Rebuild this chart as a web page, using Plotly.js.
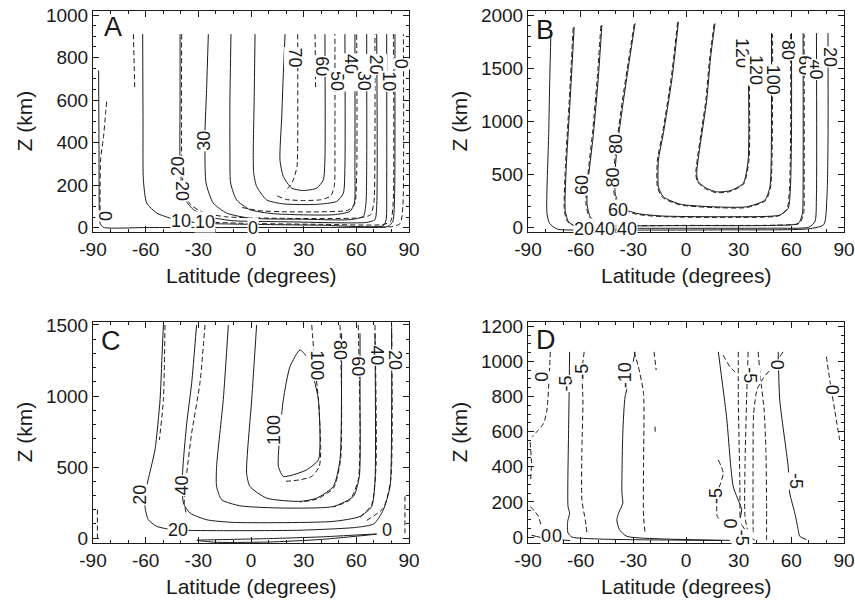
<!DOCTYPE html>
<html><head><meta charset="utf-8">
<script src="https://cdn.plot.ly/plotly-3.0.1.min.js"></script>
<style>html,body{margin:0;padding:0;background:#fff}#chart{width:855px;height:604px}</style>
</head><body><div id="chart"></div>
<script>
// ---------- tick labels ----------
const latTickVals = [-90, -60, -30, 0, 30, 60, 90];
const latTickText = ['-90', '-60', '-30', '0', '30', '60', '90'];
const xTitle = 'Latitude (degrees)';
const yTitle = 'Z (km)';
const panelLetters = ['A', 'B', 'C', 'D'];

// ---------- Panel A ----------
const A_solid_levels = [0, 10, 20, 30, 40, 50, 60];
const A_solid_lat = [
  [-86.8,-86.6,-86.4,-86.0,-84.1,-60,0,60,78,80.8,81.8,82,82],
  [-61.7,-61.5,-61.3,-59.4,-53.7,-44.2,-29.1,0,40,75.4,77.0,77.3,77.3],
  [-40.4,-40.4,-40.4,-38.5,-32.8,-23.3,-10.1,20,65.9,70.6,71.6,71.6],
  [-24.3,-25.3,-26.2,-25.6,-21.5,-13.9,-0.6,30,56.4,64,65.5,65.9,65.9],
  [-11.4,-12,-12,-11.6,-8.2,-0.6,12.7,46.9,56.4,58.9,59.2,59.2],
  [2.3,1.8,1.3,1.5,3.2,8.9,18.4,37.4,48.8,52.6,53.5,53.5],
  [19.4,18.3,17.5,16.5,18.4,23.2,29.8,37.4,41.2,42.1,42.1]
];
const A_solid_z = [
  [739,400,69,22,2,1,1,2,6,30,150,500,910],
  [910,500,225,116,69,41,22,16,12,10,40,200,910],
  [910,600,319,147,85,50,33,28,25,38,100,910],
  [910,650,444,210,116,69,45,40,38,53,116,288,910],
  [910,600,366,210,131,85,66,61,77,116,288,910],
  [910,600,366,260,194,131,112,110,124,163,288,910],
  [910,700,520,319,241,186,175,186,225,319,910]
];
const A_dash_lat = [
  [-82.2,-82.8,-84.1,-85.6,-86,-86],
  [-67,-66.2],
  [-39.5,-39.4,-38,-34,-27,-15,20,60,68,70,70.6,70.6],
  [26.6,26.6,26.2,24.1,21.5,19.4],
  [36.5,36.8],
  [15,20,30,40,45.5,47.5,47.8,47.8],
  [-5,5,20,40,55,59,60.2,60.2],
  [-30,0,40,75,79.5,81,81.1],
  [60,80,85,86.5,86.8]
];
const A_dash_z = [
  [593,540,420,330,150,60],
  [910,650],
  [910,300,160,105,72,52,44,46,60,120,400,910],
  [910,400,288,225,190,171],
  [910,660],
  [150,133,128,132,150,200,400,910],
  [95,80,75,75,82,110,250,910],
  [28,20,16,15,30,120,910],
  [3,5,20,100,910]
];
const A_label_text  = ['0','10','10','0','20','20','30','70','60','50','40','30','20','10','0'];
const A_label_lat   = [-82.6,-40,-26.2,1.3,-41.5,-39.0,-27.2,25.1,40.3,49,57,64.5,71.5,78.5,85.5];
const A_label_z     = [55,30,25,-2,290,175,410,800,760,690,770,690,770,690,770];
const A_label_angle = [-90,0,0,0,-90,90,-90,90,90,90,90,90,90,90,90];

// ---------- Panel B ----------
const B_solid_levels = [20, 40, 60, 80, 100, 120];
const B_solid_lat = [
  [-76.9,-77.6,-78.2,-79.2,-77.7,-73.5,-60,-30,20,70,78.5,80.3,80.9,80.9],
  [-63.7,-66,-68.2,-68.8,-66.9,-62.1,-40,0,50,70,73.5,74.3,74.3],
  [-47.9,-50,-52.7,-56.1,-56.4,-54.6,-48.9,-39.4,0,50,64,66.3,66.7,66.7],
  [-29,-32,-35.6,-39.4,-40.5,-40.3,-37.5,-28,-12.9,25,53.4,58.2,59.5,60.1,60.1],
  [-4.3,-8,-12.9,-15.7,-15.7,-12.9,-3.4,15.5,34.5,44.9,47.8,48.7,48.7],
  [16.5,14,11.8,6.1,7,11.8,17.4,25,32.6,35.4,35.4,34.5]
];
const B_solid_z = [
  [1860,1400,887,135,41,-12,-22,-22,-20,-10,30,300,800,1830],
  [1890,1200,574,166,56,9,-4,-5,-4,5,60,300,1830],
  [1906,1400,887,385,229,104,25,18,20,22,40,135,417,1830],
  [1922,1600,1200,730,500,323,197,135,110,104,119,182,385,900,1830],
  [1937,1400,887,636,385,291,222,197,197,260,385,1200,1830],
  [1922,1600,1200,511,432,370,338,348,417,636,1514,1733]
];
const B_dash_lat = [
  [-64.3,-66.5,-68.7,-69.3,-67.5,-62.5],
  [-48.5,-50.6,-53.3,-56.6,-57,-55.2,-49.5,-40,0,50,64.6,67,67.3,67.3],
  [-29.5,-32.5,-36.2,-40,-41.2,-41,-38,-28.5,-13,25,53,57.6,59,59.6,59.6],
  [16,13.5,11.3,5.6,6.5,11.3,17.2,25,32.8,35.9,35.9,35.2],
  [-4.8,-8.5,-13.4,-16.3,-16.3,-13.4,-3.6,15.5,34.5,45.3,48.2,49.3,49.3]
];
const B_dash_z = [
  [1880,1200,574,166,56,9],
  [1900,1400,887,385,229,104,28,20,22,24,42,135,417,1820],
  [1915,1600,1200,730,500,323,190,128,104,98,113,178,385,900,1820],
  [1915,1600,1200,511,432,365,330,340,410,636,1514,1750],
  [1930,1400,887,636,385,285,215,190,190,255,385,1200,1820]
];
const B_label_text  = ['20','40','60','40','60','80','80','120','120','100','80','60','40','20'];
const B_label_lat   = [-58,-46,-39,-33.5,-59.3,-40.3,-41.7,31.5,39.5,49.6,58.2,67.7,74.3,81.9];
const B_label_z     = [-12,-12,170,-12,400,790,470,1640,1480,1390,1670,1530,1483,1608];
const B_label_angle = [0,0,0,0,-90,-90,-90,90,90,90,90,90,90,90];

// ---------- Panel C ----------
const C_solid_levels = [0, 20, 40, 60, 80, 100];
const C_solid_lat = [
  [-30.9,-20,10,40,71.6,40,10,-20,-30.9],
  [-49.9,-50.8,-51.8,-54.7,-59.4,-60.4,-58.5,-53.7,-44.2,-19.6,27.9,60,70,75.4,79.2,80.1,80.1],
  [-31,-33.8,-36.6,-39,-38.5,-34.7,-25.3,-10.1,46.9,62.1,68.7,70.6,70.6],
  [-12.9,-15.8,-19.6,-19.6,-16.7,-6.3,18.4,46.9,58.3,61.7,62.1,62.1],
  [3.2,0.4,-2.5,-0.6,8.9,27.9,37.4,46.9,50.7,51.6,51.6],
  [27.9,22.2,18.4,16.5,15.6,18.4,24.1,31.7,38.4,39.3,38.4,35.5,31.7,27.9]
];
const C_solid_z = [
  [-16,-12,-4,8,28,-10,-28,-30,-16],
  [1500,1250,973,621,363,222,129,82,58,52,55,75,100,199,363,900,1470],
  [1500,1090,809,450,246,176,129,110,117,152,222,387,1441],
  [1500,973,504,363,270,227,211,222,293,434,973,1441],
  [1500,973,457,363,281,258,281,363,551,1207,1441],
  [1324,1207,973,738,504,434,445,480,551,738,973,1137,1277,1324]
];
const C_dash_lat = [
  [-87.5,-87.5],
  [-49,-49.9,-52.2],
  [-26.2,-29.1,-33.8,-36.6,-38,-36.8],
  [34.6,36.5,38.4,39.7,38.9,34.6,27.9,18.4],
  [50.7,51.6,51,47,37.4,27.9],
  [61.1,62.1,61.1,56.4,46.9],
  [70.6,71.2,68.7,62.1],
  [80.1,79.6,75.4,65.9],
  [87.7,87.7]
];
const C_dash_z = [
  [200,0],
  [1500,973,690],
  [1500,1090,738,457,246,170],
  [1500,1207,973,621,504,434,410,398],
  [1500,973,551,351,274,253],
  [1500,738,410,270,218],
  [1500,504,234,147],
  [1500,410,211,124],
  [293,35]
];
const C_label_text  = ['20','40','20','0','100','100','80','60','40','20'];
const C_label_lat   = [-63.2,-39.3,-41.4,77.3,12.7,37.4,50.7,61.1,71.6,82];
const C_label_z     = [305,370,58,58,762,1219,1324,1207,1289,1254];
const C_label_angle = [-90,-90,0,0,-90,90,90,90,90,90];

// ---------- Panel D ----------
const D_solid_levels = [-5, -10, -5, -5, 0];
const D_solid_lat = [
  [-66.3,-66.6,-66.9,-67.2,-66.3,-67.4,-67.2,-65,-50.8,-31.8,0,20],
  [-29,-31.8,-34.7,-36,-36.5,-36,-38.4,-39.4,-37.9,-33.7,-12.9,25],
  [18.4,23.1,26.9,31.7,30.7,33.6,36.4,39.2],
  [52.5,53.4,58.2,59.1,62,63.9,64.8,68.6],
  [-88,-80,-66]
];
const D_solid_z = [
  [1054,800,591,174,136,89,23,0,-11,-15,-18,-20],
  [1054,912,799,591,250,193,136,98,42,4,-11,-19],
  [1054,685,288,155,89,42,4,-19],
  [1054,780,401,250,136,42,4,-15],
  [10,-8,-20]
];
const D_dash_lat = [
  [-77.3,-78,-79.2,-81.1,-84.9,-87.7],
  [-88.8,-88,-88.5],
  [-88.7,-84,-82,-80],
  [-58,-59.3,-58.7,-59.3,-59.3,-57.4,-56.4],
  [-29.5,-27.1,-24.2,-24.2,-24.2,-23.3],
  [-18.2,-17],
  [-17.6,-17.6],
  [21.2,25,27.9],
  [29.8,29.8,30.7,30.7],
  [35.4,34.5,33.6,33.6,35.4],
  [41.1,42.5,44.5,45.5,45.9,45.9],
  [55.3,50.5,44,40.5,38.5,38.2,38.2],
  [18.4,21.2,18,17.8,21.2,25,29],
  [80,81.9,84.7,87.5]
];
const D_dash_z = [
  [1054,900,723,647,600,571],
  [540,420,330],
  [174,117,40,0],
  [1054,940,780,496,212,98,23],
  [1054,969,818,401,117,23],
  [1054,950],
  [628,590],
  [1035,969,940],
  [1054,780,288,23],
  [1054,780,401,117,23],
  [1054,900,723,500,200,-15],
  [1054,985,903,840,700,400,20],
  [439,364,250,117,79,50,30],
  [1026,893,723,553]
];
const D_label_text  = ['0','-5','-5','-10','-5','0','0','-5','0','-5','-5','0','0'];
const D_label_lat   = [-82,-67.8,-59.3,-34.7,36.4,51.5,82.8,17.4,25.5,32,62.9,-80,-73.5];
const D_label_z     = [912,874,940,922,922,978,836,231,75,-5,316,4,4];
const D_label_angle = [-90,-90,-90,-90,90,90,90,-90,-90,90,90,0,0];

// ---------- build ----------
const FONT = '"Liberation Sans", Arial, Helvetica, sans-serif';
const INK = '#1a1a1a';
const xDomL = [93/855, 409/855], xDomR = [528/855, 844/855];
const yDomT = [(604-232)/604, (604-11)/604], yDomB = [(604-543)/604, (604-322)/604];

const panels = [
  {sfx:'',  xd:xDomL, yd:yDomT, yr:[-20,1019],  ydt:200, ymd:50,  sL:A_solid_lat, sZ:A_solid_z, dL:A_dash_lat, dZ:A_dash_z, lt:A_label_text, la:A_label_lat, lz:A_label_z, lg:A_label_angle, letter:[113,27]},
  {sfx:'2', xd:xDomR, yd:yDomT, yr:[-40,2038],  ydt:500, ymd:100, sL:B_solid_lat, sZ:B_solid_z, dL:B_dash_lat, dZ:B_dash_z, lt:B_label_text, la:B_label_lat, lz:B_label_z, lg:B_label_angle, letter:[545,30]},
  {sfx:'3', xd:xDomL, yd:yDomB, yr:[-35,1521],  ydt:500, ymd:100, sL:C_solid_lat, sZ:C_solid_z, dL:C_dash_lat, dZ:C_dash_z, lt:C_label_text, la:C_label_lat, lz:C_label_z, lg:C_label_angle, letter:[111,341]},
  {sfx:'4', xd:xDomR, yd:yDomB, yr:[-34,1224],  ydt:200, ymd:50,  sL:D_solid_lat, sZ:D_solid_z, dL:D_dash_lat, dZ:D_dash_z, lt:D_label_text, la:D_label_lat, lz:D_label_z, lg:D_label_angle, letter:[546,340]}
];

const traces = [];
const annotations = [];
const layout = {
  width: 855, height: 604,
  margin: {l:0, r:0, t:0, b:0},
  paper_bgcolor: '#fff', plot_bgcolor: '#fff',
  showlegend: false,
  font: {family: FONT, color: INK}
};

panels.forEach((p, pi) => {
  const xa = 'x' + p.sfx, ya = 'y' + p.sfx;
  const addLine = (lat, z, dash) => traces.push({
    type:'scatter', mode:'lines', x: lat, y: z, xaxis: xa, yaxis: ya,
    line: {color: INK, width: 1, dash: dash, shape: 'spline', smoothing: 0.6},
    hoverinfo: 'skip', showlegend: false, cliponaxis: true
  });
  p.dL.forEach((lat, i) => addLine(lat, p.dZ[i], '5px,3px'));
  p.sL.forEach((lat, i) => addLine(lat, p.sZ[i], 'solid'));
  p.lt.forEach((t, i) => annotations.push({
    xref: xa, yref: ya, x: p.la[i], y: p.lz[i], text: t, showarrow: false,
    textangle: p.lg[i], font: {family: FONT, size: 18, color: INK},
    bgcolor: '#fff', borderpad: 0, xanchor: 'center', yanchor: 'middle'
  }));
  layout['xaxis' + p.sfx] = {
    domain: p.xd, anchor: ya, range: [-90, 90],
    tickmode: 'array', tickvals: latTickVals, ticktext: latTickText,
    ticks: 'inside', ticklen: 6, tickwidth: 1, tickcolor: INK,
    showline: true, linewidth: 1, linecolor: INK, mirror: 'allticks',
    showgrid: false, zeroline: false,
    tickfont: {family: FONT, size: 19, color: INK},
    minor: {ticks: 'inside', ticklen: 3, tickwidth: 1, tickcolor: INK, tickmode: 'linear', tick0: -90, dtick: 10, showgrid: false},
    fixedrange: true
  };
  layout['yaxis' + p.sfx] = {
    domain: p.yd, anchor: xa, range: p.yr,
    tickmode: 'linear', tick0: 0, dtick: p.ydt,
    ticks: 'inside', ticklen: 6, tickwidth: 1, tickcolor: INK,
    showline: true, linewidth: 1, linecolor: INK, mirror: 'allticks',
    showgrid: false, zeroline: false,
    tickfont: {family: FONT, size: 19, color: INK},
    minor: {ticks: 'inside', ticklen: 3, tickwidth: 1, tickcolor: INK, tickmode: 'linear', tick0: 0, dtick: p.ymd, showgrid: false},
    fixedrange: true
  };
  const xc = (p.xd[0] + p.xd[1]) / 2;
  const yc = (p.yd[0] + p.yd[1]) / 2;
  const bottomPx = 604 - p.yd[0] * 604;
  annotations.push({xref:'paper', yref:'paper', x: xc, y: (604 - (bottomPx + 43)) / 604,
    text: xTitle, showarrow: false, xanchor:'center', yanchor:'middle',
    font: {family: FONT, size: 21, color: INK}});
  const leftPx = p.xd[0] * 855;
  annotations.push({xref:'paper', yref:'paper', x: (leftPx - 69) / 855, y: yc,
    text: yTitle, showarrow: false, textangle: -90, xanchor:'center', yanchor:'middle',
    font: {family: FONT, size: 21, color: INK}});
  annotations.push({xref:'paper', yref:'paper', x: p.letter[0] / 855, y: (604 - p.letter[1]) / 604,
    text: panelLetters[pi], showarrow: false, xanchor:'center', yanchor:'middle',
    font: {family: FONT, size: 27, color: INK}});
});
layout.annotations = annotations;

Plotly.newPlot('chart', traces, layout, {staticPlot: true, displayModeBar: false});
</script>
</body></html>
